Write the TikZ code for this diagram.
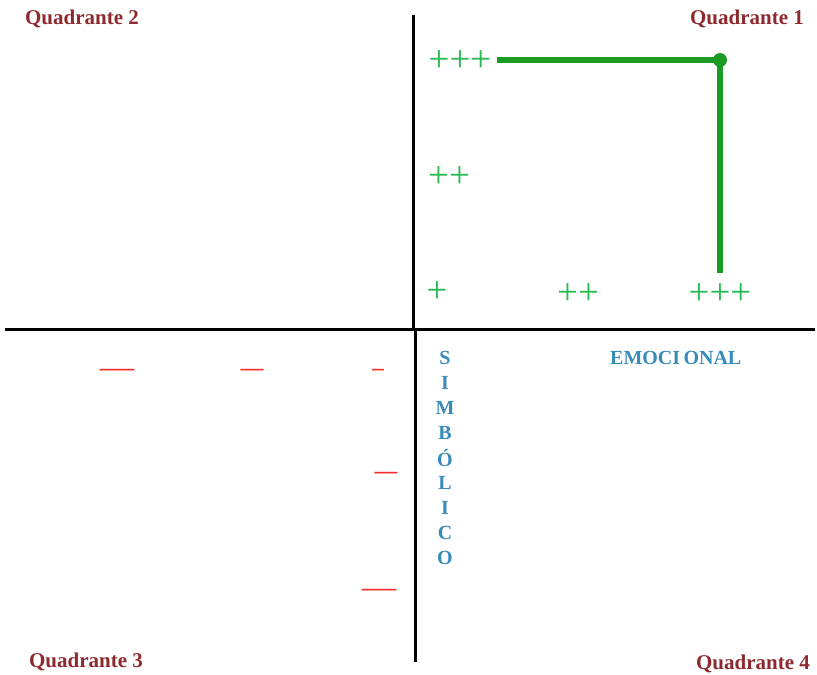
\documentclass[tikz,border=0pt]{standalone}
\usepackage{fontspec}
\setmainfont{Liberation Serif}
\definecolor{quad}{RGB}{140,42,48}
\definecolor{plusg}{RGB}{40,185,80}
\definecolor{lineg}{RGB}{28,155,36}
\definecolor{minr}{RGB}{245,45,45}
\definecolor{axblue}{RGB}{55,140,185}
\tikzset{
  quadlbl/.style={font=\fontsize{21}{22}\selectfont\bfseries, text=quad, inner sep=0pt},
  plus/.style={font=\fontsize{37}{37}\selectfont, text=plusg, inner sep=0pt},
  minus/.style={font=\fontsize{23}{23}\selectfont\bfseries, text=minr, inner sep=0pt},
  axlbl/.style={font=\fontsize{20}{20}\selectfont\bfseries, text=axblue, inner sep=0pt},
  axis/.style={line width=3pt, black},
  gline/.style={line width=5.5pt, lineg}
}
\begin{document}
\begin{tikzpicture}[x=1pt,y=-1pt]
\useasboundingbox (0,0) rectangle (817,675);
% axes
\coordinate (vtop) at (413,15);
\coordinate (vmid1) at (413,331);
\coordinate (vmid2) at (415,331);
\coordinate (vbot) at (415,662);
\coordinate (hl) at (5,329);
\coordinate (hr) at (815,329);
\draw[axis] (vtop) -- (vmid1);
\draw[axis] (vmid2) -- (vbot);
\draw[axis] (hl) -- (hr);
% quadrant labels
\node[quadlbl] (q2) at (82,19) {Quadrante 2};
\node[quadlbl] (q1) at (747,19) {Quadrante 1};
\node[quadlbl] (q3) at (86,662) {Quadrante 3};
\node[quadlbl] (q4) at (753,664) {Quadrante 4};
% plus marks
\node[plus] (p3v) at (460,61) {+++};
\node[plus] (p2v) at (449,177) {++};
\node[plus] (p1) at (437,292) {+};
\node[plus] (p2h) at (578,294) {++};
\node[plus] (p3h) at (720,294) {+++};
% green path
\coordinate (gs) at (497,60);
\coordinate (gc) at (720,60);
\coordinate (ge) at (720,273);
\draw[gline] (gs) -- (gc);
\draw[gline] (gc) -- (ge);
\fill[lineg] (gc) circle (7);
% minus marks
\node[minus] (m3h) at (117,372) {–––};
\node[minus] (m2h) at (252,372) {––};
\node[minus] (m1) at (378,372) {–};
\node[minus] (m2v) at (386,475) {––};
\node[minus] (m3v) at (379,592) {–––};
% axis labels
\node[axlbl, anchor=west] (emo) at (610,358) {EMOCI\,ONAL};
\foreach \l [count=\i] in {S,I,M,B,Ó,L,I,C,O} {
  \node[axlbl] (s\i) at (445,{358+25*(\i-1)}) {\l};
}
\end{tikzpicture}
\end{document}
